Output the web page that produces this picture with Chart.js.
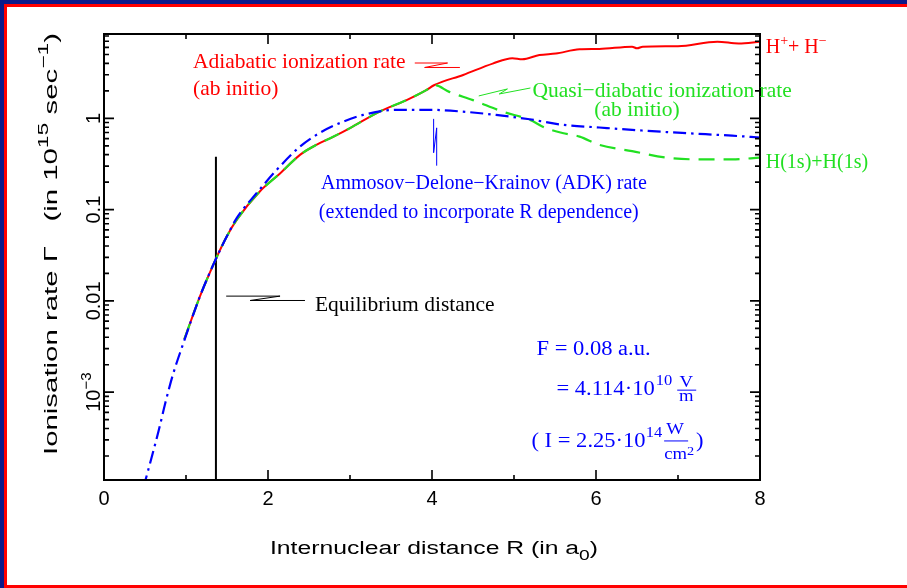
<!DOCTYPE html>
<html>
<head>
<meta charset="utf-8">
<script src="https://cdn.jsdelivr.net/npm/chart.js@4.4.1/dist/chart.umd.min.js"></script>
<style>
  body { margin: 0; background: #fff; }
  #wrap { position: relative; width: 907px; height: 588px; overflow: hidden; }
  .fr { position: absolute; }
</style>
</head>
<body>
<div id="wrap">
  <canvas id="rateChart" width="907" height="588"></canvas>
  <div class="fr" style="left:0;top:0;width:907px;height:4px;background:#0c1a8a"></div>
  <div class="fr" style="left:0;top:0;width:4px;height:588px;background:#0c1a8a"></div>
  <div class="fr" style="left:4px;top:4px;width:903px;height:3px;background:#ff0000"></div>
  <div class="fr" style="left:4px;top:4px;width:3px;height:584px;background:#ff0000"></div>
  <div class="fr" style="left:4px;top:585px;width:903px;height:3px;background:#ff0000"></div>
</div>
<script>
// adiabatic ionization rate (ab initio), red solid
const adiabaticR = [0.98, 1.17, 1.36, 1.5, 1.62, 1.9, 2.15, 2.39, 2.59, 2.8, 3.0, 3.36, 3.69, 3.93, 4.03,
  4.38, 4.74, 4.98, 5.1, 5.31, 5.51, 5.8, 6.04, 6.44, 6.5, 6.57, 7.0, 7.48, 7.74, 8.0];
const adiabaticRate = [0.0038, 0.0112, 0.0282, 0.0513, 0.0776, 0.158, 0.251, 0.398, 0.513, 0.631, 0.782, 1.186, 1.585, 2.04, 2.32,
  2.99, 3.98, 4.57, 4.44, 4.94, 5.13, 5.70, 5.75, 6.10, 5.85, 6.10, 6.17, 6.92, 6.61, 6.92];

// quasi-diabatic ionization rate (ab initio), green dashed
const quasiR = [0.98, 1.17, 1.36, 1.5, 1.62, 1.9, 2.15, 2.39, 2.59, 2.8, 3.0, 3.36, 3.69, 3.93, 4.03,
  4.21, 4.5, 4.86, 5.19, 5.39, 5.59, 5.8, 6.04, 6.44, 6.85, 7.26, 7.66, 8.0];
const quasiRate = [0.0038, 0.0112, 0.0282, 0.0513, 0.0776, 0.158, 0.251, 0.398, 0.513, 0.631, 0.782, 1.186, 1.585, 2.04, 2.32,
  1.95, 1.585, 1.186, 0.964, 0.782, 0.692, 0.631, 0.513, 0.437, 0.372, 0.355, 0.355, 0.372];

// ADK rate, blue dash-dot
const adkR = [0.48, 0.667, 0.75, 0.84, 0.95, 1.17, 1.36, 1.5, 1.62, 1.86, 2.11, 2.39, 2.63, 2.88, 3.16,
  3.57, 3.97, 4.37, 4.78, 5.19, 5.59, 6.04, 6.44, 7.05, 7.66, 8.0];
const adkRate = [0.000089, 0.00038, 0.000776, 0.00155, 0.00309, 0.0112, 0.0282, 0.0513, 0.0813, 0.151, 0.275, 0.490, 0.692, 0.891, 1.09,
  1.24, 1.24, 1.186, 1.09, 0.977, 0.851, 0.794, 0.748, 0.692, 0.646, 0.617];

// equilibrium distance marker
const equilibriumR = 1.365;
const equilibriumTop = 0.38;

const xMin = 0, xMax = 8;
const yMin = 1.09e-4, yMax = 8.4;
const xMajorTicks = [0, 2, 4, 6, 8];
const xTickLabels = ["0", "2", "4", "6", "8"];
const xMinorTicks = [1, 3, 5, 7];
const yMajorTicks = [0.001, 0.01, 0.1, 1];
const yTickLabels = ["10", "0.01", "0.1", "1"];
const yTickSup = ["\u22123", "", "", ""];

const RED = "#ff0000", GREEN = "#22e022", BLUE = "#0000ff";
const SERIF = "'Liberation Serif', 'Times New Roman', serif";
const SANS = "'Liberation Sans', Arial, sans-serif";

function pts(xs, ys) {
  return xs.map((x, i) => ({ x: x, y: ys[i] }));
}

// draws a run of text pieces (normal / raised / lowered), returns width
function rich(ctx, parts, x, y, family, color, sx, align) {
  sx = sx || 1;
  ctx.save();
  ctx.fillStyle = color;
  let w = 0;
  parts.forEach(p => { ctx.font = p.s + "px " + family; w += ctx.measureText(p.t).width; });
  let cx = align === "center" ? x - w * sx / 2 : x;
  ctx.translate(cx, y);
  ctx.scale(sx, 1);
  let pos = 0;
  parts.forEach(p => {
    ctx.font = p.s + "px " + family;
    ctx.fillText(p.t, pos, p.dy || 0);
    pos += ctx.measureText(p.t).width;
  });
  ctx.restore();
  return w * sx;
}

function fitWidth(ctx, parts, family, target) {
  let w = 0;
  ctx.save();
  parts.forEach(p => { ctx.font = p.s + "px " + family; w += ctx.measureText(p.t).width; });
  ctx.restore();
  return target / w;
}

const decorations = {
  id: "decorations",
  afterDraw(chart) {
    const ctx = chart.ctx;
    const a = chart.chartArea;
    const xs = chart.scales.x, ys = chart.scales.y;
    const X = v => xs.getPixelForValue(v);
    const Y = v => ys.getPixelForValue(v);

    ctx.save();
    ctx.textBaseline = "alphabetic";
    ctx.textAlign = "left";

    // frame and inward ticks
    ctx.strokeStyle = "#000";
    ctx.lineWidth = 2;
    ctx.strokeRect(a.left, a.top, a.right - a.left, a.bottom - a.top);
    ctx.lineWidth = 1.6;
    ctx.beginPath();
    xMajorTicks.forEach(v => {
      const px = X(v);
      ctx.moveTo(px, a.bottom); ctx.lineTo(px, a.bottom - 10);
      ctx.moveTo(px, a.top); ctx.lineTo(px, a.top + 10);
    });
    xMinorTicks.forEach(v => {
      const px = X(v);
      ctx.moveTo(px, a.bottom); ctx.lineTo(px, a.bottom - 5);
      ctx.moveTo(px, a.top); ctx.lineTo(px, a.top + 5);
    });
    for (let e = -4; e <= 0; e++) {
      for (let m = 1; m <= 9; m++) {
        const v = m * Math.pow(10, e);
        if (v < yMin || v > yMax) continue;
        const py = Y(v);
        const len = m === 1 ? 10 : 5;
        ctx.moveTo(a.left, py); ctx.lineTo(a.left + len, py);
        ctx.moveTo(a.right, py); ctx.lineTo(a.right - len, py);
      }
    }
    ctx.stroke();

    // tick labels
    xMajorTicks.forEach((v, i) => {
      rich(ctx, [{ t: xTickLabels[i], s: 20 }], X(v), a.bottom + 25, SANS, "#000", 1, "center");
    });
    yMajorTicks.forEach((v, i) => {
      ctx.save();
      ctx.translate(a.left - 4, Y(v));
      ctx.rotate(-Math.PI / 2);
      const parts = [{ t: yTickLabels[i], s: 20 }];
      if (yTickSup[i]) parts.push({ t: yTickSup[i], s: 15, dy: -9 });
      rich(ctx, parts, 0, 0, SANS, "#000", 1, "center");
      ctx.restore();
    });

    // axis titles
    const xt = [{ t: "Internuclear distance R (in a", s: 18 }, { t: "0", s: 14, dy: 6 }, { t: ")", s: 18 }];
    rich(ctx, xt, (a.left + a.right) / 2 + 2, a.bottom + 74, SANS, "#000", fitWidth(ctx, xt, SANS, 328), "center");
    const yt = [{ t: "Ionisation rate \u0393   (in 10", s: 18 }, { t: "15", s: 14, dy: -9 },
      { t: " sec", s: 18 }, { t: "\u22121", s: 14, dy: -9 }, { t: ")", s: 18 }];
    ctx.save();
    ctx.translate(a.left - 47, 244);
    ctx.rotate(-Math.PI / 2);
    rich(ctx, yt, 0, 0, SANS, "#000", fitWidth(ctx, yt, SANS, 422), "center");
    ctx.restore();

    // zigzag leaders
    function leader(p, color) {
      ctx.strokeStyle = color;
      ctx.lineWidth = 1;
      ctx.beginPath();
      p.forEach((q, i) => i ? ctx.lineTo(X(q[0]), Y(q[1])) : ctx.moveTo(X(q[0]), Y(q[1])));
      ctx.stroke();
    }
    leader([[3.79, 4.04], [4.19, 4.04], [3.91, 3.61], [4.34, 3.61]], RED);
    leader([[4.57, 1.76], [4.92, 2.10], [4.82, 1.85], [5.20, 2.15]], GREEN);
    leader([[4.02, 0.987], [4.02, 0.42], [4.057, 0.787], [4.057, 0.303]], BLUE);
    leader([[1.49, 0.01128], [2.147, 0.01128], [1.782, 0.0101], [2.451, 0.0101]], "#000");

    // annotations
    rich(ctx, [{ t: "Adiabatic ionization rate", s: 21.5 }], X(1.085), Y(3.59), SERIF, RED);
    rich(ctx, [{ t: "(ab initio)", s: 21.5 }], X(1.085), Y(1.81), SERIF, RED);
    rich(ctx, [{ t: "Quasi\u2212diabatic ionization rate", s: 21.5 }], X(5.225), Y(1.71), SERIF, GREEN);
    rich(ctx, [{ t: "(ab initio)", s: 21.5 }], X(5.98), Y(1.05), SERIF, GREEN);
    rich(ctx, [{ t: "H", s: 20 }, { t: "+", s: 14, dy: -8 }, { t: "+ H", s: 20 }, { t: "\u2212", s: 14, dy: -8 }],
      X(8.07), Y(5.16), SERIF, RED);
    rich(ctx, [{ t: "H(1s)+H(1s)", s: 20 }], X(8.07), Y(0.286), SERIF, GREEN);
    rich(ctx, [{ t: "Ammosov\u2212Delone\u2212Krainov (ADK) rate", s: 20 }], X(2.646), Y(0.168), SERIF, BLUE);
    rich(ctx, [{ t: "(extended to incorporate R dependence)", s: 20 }], X(2.62), Y(0.0811), SERIF, BLUE);
    rich(ctx, [{ t: "Equilibrium distance", s: 21.5 }], X(2.572), Y(0.00774), SERIF, "#000");

    // field strength block
    const sx = 1.1;
    rich(ctx, [{ t: "F = 0.08 a.u.", s: 20.5 }], X(5.274), Y(0.002536), SERIF, BLUE, sx);
    let x2 = X(5.517), y2 = Y(9.27e-4);
    x2 += rich(ctx, [{ t: "= 4.114\u00b710", s: 20.5 }], x2, y2, SERIF, BLUE, sx) + 1;
    x2 += rich(ctx, [{ t: "10", s: 15 }], x2, y2 - 10, SERIF, BLUE, sx) + 14;
    rich(ctx, [{ t: "V", s: 17 }], x2, y2 - 8, SERIF, BLUE, sx, "center");
    rich(ctx, [{ t: "m", s: 17 }], x2, y2 + 6, SERIF, BLUE, sx, "center");
    ctx.strokeStyle = BLUE; ctx.lineWidth = 1;
    ctx.beginPath(); ctx.moveTo(x2 - 9, y2 - 5); ctx.lineTo(x2 + 10, y2 - 5); ctx.stroke();

    let x3 = X(5.213), y3 = Y(2.51e-4);
    x3 += rich(ctx, [{ t: "( I = 2.25\u00b710", s: 20.5 }], x3, y3, SERIF, BLUE, sx);
    x3 += rich(ctx, [{ t: "14", s: 15 }], x3, y3 - 10, SERIF, BLUE, sx) + 2;
    rich(ctx, [{ t: "W", s: 17 }], x3 + 11, y3 - 13, SERIF, BLUE, sx, "center");
    ctx.beginPath(); ctx.moveTo(x3, y3 - 6); ctx.lineTo(x3 + 24, y3 - 6); ctx.stroke();
    let cw = rich(ctx, [{ t: "cm", s: 17 }], x3, y3 + 12, SERIF, BLUE, sx);
    rich(ctx, [{ t: "2", s: 13 }], x3 + cw, y3 + 8, SERIF, BLUE, sx);
    rich(ctx, [{ t: ")", s: 20.5 }], x3 + cw + 9, y3, SERIF, BLUE, sx);

    ctx.restore();
  }
};

new Chart(document.getElementById("rateChart"), {
  type: "line",
  data: {
    datasets: [
      {
        label: "ADK",
        data: pts(adkR, adkRate),
        borderColor: BLUE,
        borderWidth: 2.2,
        borderDash: [13, 5, 2.5, 5],
        cubicInterpolationMode: "monotone"
      },
      {
        label: "Quasi-diabatic",
        data: pts(quasiR, quasiRate),
        borderColor: GREEN,
        borderWidth: 2.2,
        borderDash: [16, 9],
        cubicInterpolationMode: "monotone"
      },
      {
        label: "Adiabatic",
        data: pts(adiabaticR, adiabaticRate),
        borderColor: RED,
        borderWidth: 2,
        cubicInterpolationMode: "monotone"
      },
      {
        label: "Equilibrium",
        data: [{ x: equilibriumR, y: yMin }, { x: equilibriumR, y: equilibriumTop }],
        borderColor: "#000",
        borderWidth: 2
      }
    ]
  },
  options: {
    responsive: false,
    animation: false,
    parsing: true,
    elements: { point: { radius: 0 } },
    layout: { padding: { left: 104, top: 34, right: 147, bottom: 108 } },
    scales: {
      x: { type: "linear", min: xMin, max: xMax, display: false },
      y: { type: "logarithmic", min: yMin, max: yMax, display: false }
    },
    plugins: {
      legend: { display: false },
      tooltip: { enabled: false }
    }
  },
  plugins: [decorations]
});
</script>
</body>
</html>
